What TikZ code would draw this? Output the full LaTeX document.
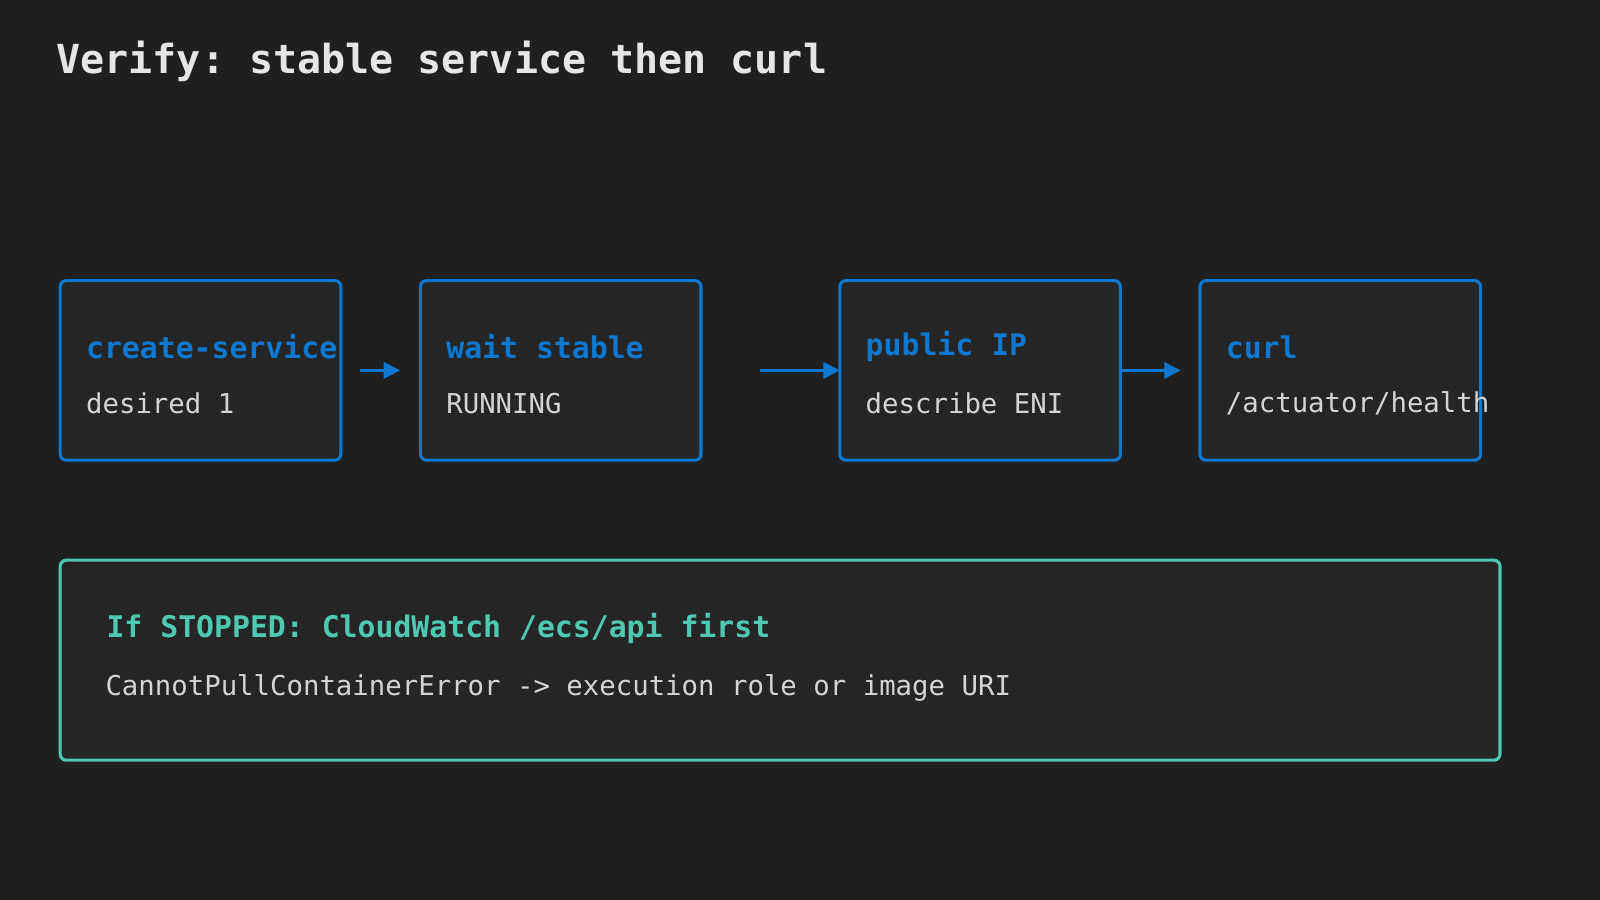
\documentclass[tikz,border=0pt]{standalone}
\usepackage{fontspec}
\setmonofont{DejaVu Sans Mono}
\usetikzlibrary{arrows.meta}
\definecolor{bg}{HTML}{1F1F1F}
\definecolor{boxbg}{HTML}{252526}
\definecolor{blu}{HTML}{0E78D0}
\definecolor{teal}{HTML}{4EC9B0}
\definecolor{txt}{HTML}{D4D4D4}
\definecolor{ttl}{HTML}{E6E6E6}
\begin{document}
\begin{tikzpicture}[x=0.5pt,y=-0.5pt,
  box/.style={draw=blu,fill=boxbg,line width=1.5pt,rounded corners=3pt},
  hd/.style={anchor=west,inner sep=0,font=\ttfamily\bfseries\fontsize{14.6}{16}\selectfont,text=blu},
  sb/.style={anchor=west,inner sep=0,font=\ttfamily\fontsize{13.4}{16}\selectfont,text=txt},
  arr/.style={draw=blu,line width=1.2pt,-{Triangle[length=8pt,width=8pt]}}]
\fill[bg] (0,0) rectangle (1568,882);
\useasboundingbox (0,0) rectangle (1568,882);
\node[anchor=west,inner sep=0,font=\ttfamily\bfseries\fontsize{19.6}{22}\selectfont,text=ttl] (title) at (55,60) {Verify: stable service then curl};
\path[box] (59,275) rectangle (334,451);
\path[box] (412,275) rectangle (687,451);
\path[box] (823,275) rectangle (1098,451);
\path[box] (1176,275) rectangle (1451,451);
\coordinate (b1) at (334,363);
\coordinate (b2w) at (412,363);
\coordinate (b2) at (687,363);
\coordinate (b3w) at (823,363);
\coordinate (b3) at (1098,363);
\coordinate (b4w) at (1176,363);
\node[hd] (h1) at (84,340) {create-service};
\node[sb] (s1) at (84,395) {desired 1};
\node[hd] (h2) at (437,340) {wait stable};
\node[sb] (s2) at (437,395) {RUNNING};
\node[hd] (h3) at (848,340) {public IP};
\node[sb] (s3) at (848,395) {describe ENI};
\node[hd] (h4) at (1201,340) {curl};
\node[sb] (s4) at (1201,395) {/actuator/health};
\draw[arr,shorten <=19\pgflinewidth/1.2*0+9.5pt,shorten >=10pt] (b1) -- (b2w);
\draw[arr,shorten <=29pt] (b2) -- (b3w);
\draw[arr,shorten >=9.5pt] (b3) -- (b4w);
\path[draw=teal,fill=boxbg,line width=1.5pt,rounded corners=3pt] (59,549) rectangle (1470,745);
\node[hd,text=teal] (w1) at (104,616) {If STOPPED: CloudWatch /ecs/api first};
\node[sb] (w2) at (103,674) {CannotPullContainerError -> execution role or image URI};
\end{tikzpicture}
\end{document}
